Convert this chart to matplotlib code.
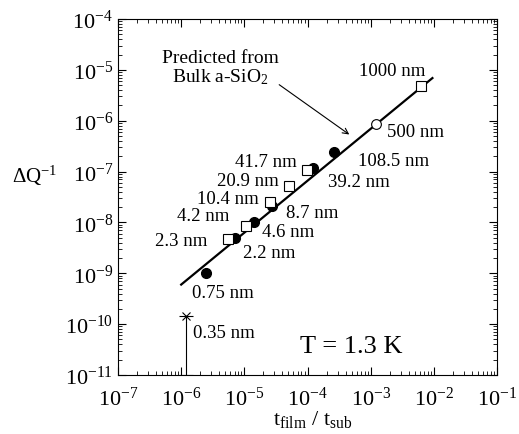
import numpy as np
import matplotlib.pyplot as plt
import matplotlib.ticker as mticker

plt.rcParams['font.family'] = ['Liberation Serif', 'DejaVu Serif']
plt.rcParams['mathtext.fontset'] = 'custom'
plt.rcParams['mathtext.rm'] = 'Liberation Serif'
plt.rcParams['mathtext.it'] = 'Liberation Serif:italic'

# DATA
filled_x = [2.47e-6, 7.1e-6, 1.44e-5, 2.7e-5, 1.2e-4, 2.63e-4]
filled_y = [1.0e-9, 5.0e-9, 1.02e-8, 2.06e-8, 1.17e-7, 2.45e-7]

square_x = [5.6e-6, 1.05e-5, 2.54e-5, 5.08e-5, 9.7e-5, 6.2e-3]
square_y = [4.8e-9, 8.5e-9, 2.5e-8, 5.2e-8, 1.07e-7, 4.9e-6]

open_x = [1.21e-3]
open_y = [8.5e-7]

star_x = [1.19e-6]
star_y = [1.45e-10]

line_x = [1.0e-6, 9.5e-3]
line_y = [6.0e-10, 6.9e-6]

# labels and where they sit (left edge, vertical centre)
labels = ['0.75 nm', '2.2 nm', '4.6 nm', '8.7 nm', '39.2 nm', '108.5 nm',
          '500 nm', '1000 nm', '41.7 nm', '20.9 nm', '10.4 nm', '4.2 nm',
          '2.3 nm', '0.35 nm']
label_x = [1.47e-6, 9.4e-6, 1.92e-5, 4.5e-5, 2.08e-4, 6.34e-4,
           1.82e-3, 6.58e-4, 7.1e-6, 3.65e-6, 1.76e-6, 8.67e-7,
           3.85e-7, 1.55e-6]
label_y = [4.17e-10, 2.62e-9, 6.62e-9, 1.57e-8, 6.27e-8, 1.68e-7,
           6.05e-7, 9.9e-6, 1.58e-7, 6.56e-8, 2.95e-8, 1.34e-8,
           4.33e-9, 6.98e-11]

fig = plt.figure(figsize=(5.19, 4.35), dpi=100)
ax = fig.add_axes([0.2274, 0.1356, 0.7302, 0.8184])

ax.plot(line_x, line_y, color='black', linewidth=1.6)
ax.plot(filled_x, filled_y, 'o', color='black', markersize=7)
ax.plot(square_x, square_y, 's', mfc='white', mec='black', markersize=7, mew=0.8)
ax.plot(open_x, open_y, 'o', mfc='white', mec='black', markersize=7, mew=0.8)
ax.errorbar(star_x, star_y, yerr=[[star_y[0] - 1e-11], [0]], fmt='x', color='black',
            markersize=6, capsize=5, elinewidth=0.8, mew=0.8)

ax.set_xscale('log')
ax.set_yscale('log')
ax.set_xlim(1e-7, 1e-1)
ax.set_ylim(1e-11, 1e-4)

ax.xaxis.set_major_locator(mticker.LogLocator(base=10, numticks=20))
ax.yaxis.set_major_locator(mticker.LogLocator(base=10, numticks=20))
ax.xaxis.set_minor_locator(mticker.LogLocator(base=10, subs=np.arange(2, 10), numticks=20))
ax.yaxis.set_minor_locator(mticker.LogLocator(base=10, subs=np.arange(2, 10), numticks=20))
ax.xaxis.set_minor_formatter(mticker.NullFormatter())
ax.yaxis.set_minor_formatter(mticker.NullFormatter())
ax.tick_params(which='both', direction='in', top=True, right=True, labelsize=16)
ax.tick_params(which='major', length=6, width=0.8)
ax.tick_params(which='minor', length=3, width=0.6)
ax.tick_params(axis='x', pad=8)

fig.text(313 / 519, 1 - 420 / 435, r'$\mathrm{t_{film}}$ / $\mathrm{t_{sub}}$',
         fontsize=16, ha='center', va='center')
fig.text(35 / 519, 1 - 176 / 435, r'$\Delta\mathrm{Q^{-1}}$', fontsize=15,
         ha='center', va='center')

for lbl, lx, ly in zip(labels, label_x, label_y):
    ax.text(lx, ly, lbl, fontsize=13.5, ha='left', va='center')

ax.text(7.59e-5, 3.7e-11, 'T = 1.3 K', fontsize=19, ha='left', va='center')

ax.text(4.11e-6, 1.13e-5, 'Predicted from\nBulk a-SiO$_2$', fontsize=14, ha='center',
        va='center', linespacing=1.0, multialignment='center')
ax.annotate('', xy=(4.98e-4, 4.98e-7), xytext=(3.28e-5, 5.5e-6),
            arrowprops=dict(arrowstyle='->', color='black', lw=0.8))

fig.savefig('out.png', dpi=100)
